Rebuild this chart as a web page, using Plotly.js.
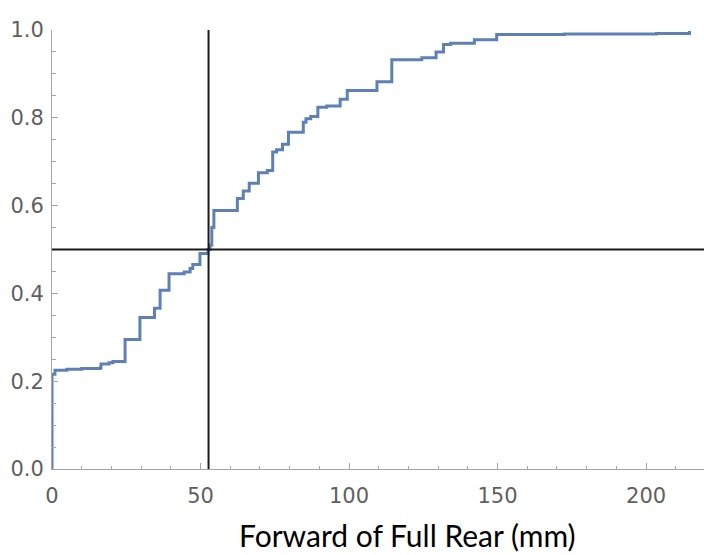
<!DOCTYPE html>
<html>
<head>
<meta charset="utf-8">
<script src="https://cdn.plot.ly/plotly-3.0.1.min.js"></script>
<style>
  html, body { margin: 0; padding: 0; background: #ffffff; }
  #chart { width: 704px; height: 555px; }
</style>
</head>
<body>
<div id="chart"></div>
<script>
const stepX = [0, 0, 1.0, 5, 10, 16.3, 16.5, 19.2, 20.5, 24.6, 29.6, 34.5, 36.4, 39.4, 44.5, 46.5, 47.4, 49.8,
  52.5, 53.2, 53.8, 54.5, 62.4, 64.4, 66.4, 69.5, 72.5, 74.3, 75.6, 77.6, 79.6, 84.6, 85.5, 87.1, 89.5, 92.5,
  97.0, 99.4, 109.4, 114.4, 124.5, 129.3, 131.8, 134.2, 142.2, 149.7, 172.5, 203.5, 214.6];
const stepY = [0, 0.216, 0.225, 0.227, 0.229, 0.231, 0.239, 0.242, 0.245, 0.295, 0.345, 0.366, 0.407, 0.445, 0.449, 0.457, 0.466, 0.491,
  0.500, 0.510, 0.550, 0.589, 0.616, 0.633, 0.651, 0.675, 0.680, 0.722, 0.727, 0.740, 0.767, 0.790, 0.798, 0.803, 0.824, 0.827,
  0.842, 0.862, 0.882, 0.932, 0.937, 0.950, 0.967, 0.970, 0.978, 0.990, 0.991, 0.992, 0.998];

// Reference lines: median position and the 50% level
const medianX = 52.7;
const halfLevel = 0.5;

// Axis ranges and tick labels
const xRange = [0, 219.5];
const yRange = [0, 1];
const xTickVals = [0, 50, 100, 150, 200];
const xTickText = ["0", "50", "100", "150", "200"];
const yTickVals = [0, 0.2, 0.4, 0.6, 0.8, 1.0];
const yTickText = ["0.0", "0.2", "0.4", "0.6", "0.8", "1.0"];
const xTitle = "Forward of Full Rear (mm)";

const trace = {
  x: stepX,
  y: stepY,
  type: 'scatter',
  mode: 'lines',
  line: { shape: 'hv', color: '#5E81B5', width: 3 },
  hoverinfo: 'skip'
};

const axisGray = '#a6a6a6';
const tickFont = { family: 'DejaVu Sans', size: 21, color: '#5f5f5f' };

const layout = {
  width: 704,
  height: 555,
  margin: { l: 52, r: 0, t: 29.5, b: 86, pad: 0 },
  paper_bgcolor: '#ffffff',
  plot_bgcolor: '#ffffff',
  showlegend: false,
  xaxis: {
    range: xRange,
    showgrid: false,
    zeroline: false,
    showline: true,
    linecolor: axisGray,
    linewidth: 1,
    ticks: 'inside',
    ticklen: 6,
    tickwidth: 1,
    tickcolor: axisGray,
    tickvals: xTickVals,
    ticktext: xTickText,
    tickfont: tickFont,
    ticklabelstandoff: 8,
    minor: { dtick: 10, tick0: 0, ticks: 'inside', ticklen: 3.5, tickcolor: axisGray, tickwidth: 1, showgrid: false },
    fixedrange: true
  },
  yaxis: {
    range: yRange,
    showgrid: false,
    zeroline: false,
    showline: true,
    linecolor: axisGray,
    linewidth: 1,
    ticks: 'inside',
    ticklen: 6,
    tickwidth: 1,
    tickcolor: axisGray,
    tickvals: yTickVals,
    ticktext: yTickText,
    tickfont: tickFont,
    ticklabelstandoff: 3,
    minor: { dtick: 0.05, tick0: 0, ticks: 'inside', ticklen: 3.5, tickcolor: axisGray, tickwidth: 1, showgrid: false },
    fixedrange: true
  },
  shapes: [
    { type: 'line', xref: 'x', yref: 'y', x0: medianX, x1: medianX, y0: yRange[0], y1: yRange[1],
      line: { color: '#1a1a1a', width: 2 }, layer: 'above' },
    { type: 'line', xref: 'paper', yref: 'y', x0: 0, x1: 1, y0: halfLevel, y1: halfLevel,
      line: { color: '#1a1a1a', width: 2 }, layer: 'above' }
  ],
  annotations: [
    { text: xTitle, xref: 'paper', yref: 'paper', x: 0.546, y: -0.195, xanchor: 'center', yanchor: 'bottom',
      showarrow: false, font: { family: 'Lato', size: 30, color: '#000000' } }
  ]
};

Plotly.newPlot('chart', [trace], layout, { displayModeBar: false, staticPlot: true });
</script>
</body>
</html>
